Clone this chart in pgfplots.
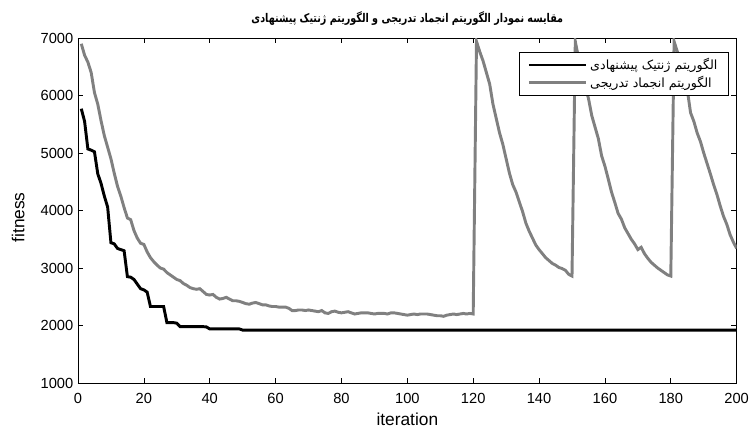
\documentclass[border=0pt]{standalone}
\usepackage{fontspec}
\setmainfont{Liberation Sans}
\newfontfamily\arabicfont[Script=Arabic]{DejaVu Sans}
\TeXXeTstate=1
\usepackage{pgfplots}
\pgfplotsset{compat=1.18}
\definecolor{sagray}{RGB}{128,128,128}
\begin{document}
\begin{tikzpicture}
\useasboundingbox (-58.5pt,-33.75pt) rectangle (504pt,287.25pt);
\begin{axis}[
 scale only axis, width=494pt, height=258.75pt,
 xmin=0, xmax=200, ymin=1000, ymax=7000,
 xtick={0,20,...,200}, ytick={1000,2000,...,7000},
 tick align=inside,
 major tick length=4pt,
 /pgf/number format/assume math mode=true,
 /pgf/number format/set thousands separator={},
 ticklabel style={font=\fontsize{11}{13}\selectfont},
 xticklabel style={yshift=-4pt},
 xlabel={iteration}, ylabel={fitness},
 label style={font=\fontsize{13}{15}\selectfont},
 xlabel style={at={(axis description cs:0.5,0)}, anchor=base, yshift=-31.5pt},
 ylabel style={at={(axis description cs:-0.091,0.48)}, anchor=center},
 title={\arabicfont\bfseries\beginR مقایسه نمودار الگوریتم انجماد تدریجی و الگوریتم ژنتیک پیشنهادی\endR},
 title style={font=\fontsize{9}{11}\selectfont, xscale=0.8, at={(axis description cs:0.5,1)}, anchor=base, yshift=5.5pt},
 legend style={at={(axis description cs:0.9875,0.9594)}, anchor=north east, font=\fontsize{9.5}{11}\selectfont, draw=black, line width=0.5pt, fill=white, row sep=-1pt, inner xsep=6pt, inner ysep=2.5pt},
 legend cell align=left,
 legend image code/.code={\path (0pt,0pt) -- (43pt,0pt); \draw[#1, line width=2.2pt] (5pt,0pt) -- (43pt,0pt);},
 axis line style={black, line width=0.5pt},
 every tick/.style={black, line width=0.5pt},
]
\addplot[black, line width=2.2pt] coordinates {
(1,5770)(2,5550)(3,5070)(4,5050)(5,5020)(6,4640)(7,4470)(8,4250)(9,4060)(10,3440)
(11,3420)(12,3340)(13,3320)(14,3300)(15,2850)(16,2840)(17,2800)(18,2720)(19,2640)(20,2620)
(21,2580)(22,2330)(23,2330)(24,2330)(25,2330)(26,2330)(27,2050)(28,2050)(29,2050)(30,2040)
(31,1980)(32,1980)(33,1980)(34,1980)(35,1980)(36,1980)(37,1980)(38,1980)(39,1975)(40,1940)
(41,1940)(42,1940)(43,1940)(44,1940)(45,1940)(46,1940)(47,1940)(48,1940)(49,1940)(50,1920)
(60,1920)(80,1920)(100,1920)(120,1920)(140,1920)(160,1920)(180,1920)(200,1920)
};
\addlegendentry{\arabicfont\beginR الگوریتم ژنتیک پیشنهادی\endR}
\addplot[sagray, line width=2.2pt] coordinates {
(1,6900)(2,6700)(3,6580)(4,6400)(5,6050)(6,5850)(7,5560)(8,5300)(9,5100)(10,4900)
(11,4650)(12,4420)(13,4250)(14,4050)(15,3870)(16,3840)(17,3650)(18,3520)(19,3430)(20,3410)
(21,3280)(22,3180)(23,3110)(24,3050)(25,3000)(26,2980)(27,2920)(28,2880)(29,2840)(30,2800)
(31,2780)(32,2730)(33,2700)(34,2660)(35,2640)(36,2630)(37,2640)(38,2590)(39,2540)(40,2530)
(41,2540)(42,2490)(43,2460)(44,2470)(45,2490)(46,2460)(47,2430)(48,2430)(49,2420)(50,2400)
(51,2380)(52,2370)(53,2390)(54,2400)(55,2380)(56,2360)(57,2360)(58,2340)(59,2330)(60,2330)
(61,2320)(62,2320)(63,2320)(64,2300)(65,2260)(66,2260)(67,2270)(68,2270)(69,2260)(70,2270)
(71,2260)(72,2250)(73,2240)(74,2260)(75,2220)(76,2210)(77,2240)(78,2250)(79,2230)(80,2220)
(81,2230)(82,2240)(83,2220)(84,2200)(85,2210)(86,2220)(87,2220)(88,2220)(89,2210)(90,2200)
(91,2210)(92,2210)(93,2210)(94,2200)(95,2220)(96,2220)(97,2210)(98,2200)(99,2190)(100,2180)
(101,2190)(102,2200)(103,2190)(104,2200)(105,2200)(106,2200)(107,2190)(108,2180)(109,2170)(110,2170)
(111,2160)(112,2180)(113,2190)(114,2200)(115,2190)(116,2200)(117,2210)(118,2200)(119,2210)(120,2200)
(121,6940)(122,6760)(123,6600)(124,6400)(125,6200)(126,5850)(127,5600)(128,5350)(129,5150)(130,4900)
(131,4650)(132,4450)(133,4320)(134,4150)(135,3980)(136,3780)(137,3640)(138,3520)(139,3400)(140,3320)
(141,3250)(142,3180)(143,3130)(144,3080)(145,3050)(146,3010)(147,2990)(148,2960)(149,2890)(150,2860)
(151,6940)(152,6650)(153,6400)(154,6150)(155,5950)(156,5650)(157,5450)(158,5250)(159,4950)(160,4770)
(161,4550)(162,4320)(163,4140)(164,3950)(165,3850)(166,3700)(167,3600)(168,3500)(169,3420)(170,3320)
(171,3360)(172,3250)(173,3170)(174,3100)(175,3050)(176,3000)(177,2960)(178,2920)(179,2880)(180,2860)
(181,6940)(182,6760)(183,6600)(184,6300)(185,6100)(186,5700)(187,5550)(188,5350)(189,5200)(190,5000)
(191,4820)(192,4640)(193,4450)(194,4280)(195,4080)(196,3900)(197,3760)(198,3580)(199,3450)(200,3340)
};
\addlegendentry{\arabicfont\beginR الگوریتم انجماد تدریجی\endR}
\end{axis}
\end{tikzpicture}
\end{document}
